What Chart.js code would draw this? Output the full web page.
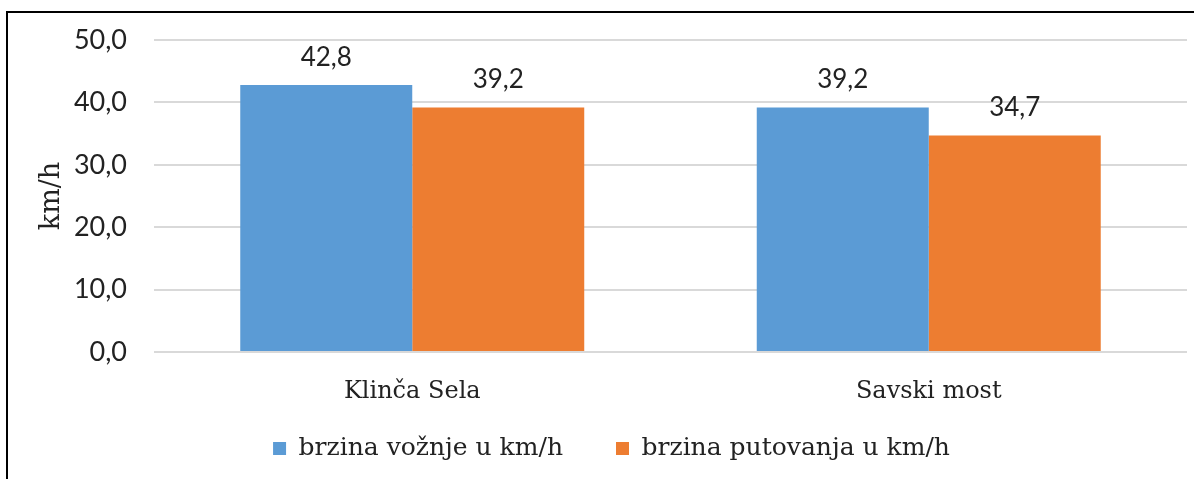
<!DOCTYPE html>
<html>
<head>
<meta charset="utf-8">
<script src="https://cdn.jsdelivr.net/npm/chart.js@4.4.1/dist/chart.umd.min.js"></script>
<style>
  html, body { margin: 0; padding: 0; background: #fff; }
  #frame {
    position: absolute;
    left: 6px;
    top: 11px;
    width: 1186px;
    height: 466px;
    border-top: 2px solid #000;
    border-left: 2px solid #000;
  }
  #wrap { position: relative; width: 1186px; height: 466px; }
</style>
</head>
<body>
<div id="frame"><div id="wrap"><canvas id="speedChart"></canvas></div></div>
<script>
const categories = ["Klinča Sela", "Savski most"];
const seriesNames = ["brzina vožnje u km/h", "brzina putovanja u km/h"];
const drivingSpeed = [42.8, 39.2];
const travelSpeed = [39.2, 34.7];
const yTicks = [0, 10, 20, 30, 40, 50];
const axisTitle = "km/h";

const serif = "'DejaVu Serif', 'Liberation Serif', serif";
const sans = "Lato, 'Liberation Sans', sans-serif";
const textColor = "#222222";

// comma as decimal separator, like the original
function fmt(v) {
  return Number(v).toFixed(1).replace(".", ",");
}

// value labels above each bar
const valueLabels = {
  id: "valueLabels",
  afterDatasetsDraw(chart) {
    const ctx = chart.ctx;
    ctx.save();
    ctx.font = "26px " + sans;
    ctx.fillStyle = textColor;
    ctx.textAlign = "center";
    ctx.textBaseline = "alphabetic";
    chart.data.datasets.forEach((ds, i) => {
      chart.getDatasetMeta(i).data.forEach((bar, j) => {
        ctx.fillText(fmt(ds.data[j]), bar.x, bar.y - 19);
      });
    });
    ctx.restore();
  },
};

const ctx = document.getElementById("speedChart").getContext("2d");
new Chart(ctx, {
  type: "bar",
  data: {
    labels: categories,
    datasets: [
      {
        label: seriesNames[0],
        data: drivingSpeed,
        backgroundColor: "#5B9BD5",
        borderWidth: 0,
      },
      {
        label: seriesNames[1],
        data: travelSpeed,
        backgroundColor: "#ED7D31",
        borderWidth: 0,
      },
    ],
  },
  options: {
    responsive: true,
    maintainAspectRatio: false,
    animation: false,
    categoryPercentage: 0.666,
    barPercentage: 1.0,
    layout: {
      padding: { left: 28, right: 7, top: 27, bottom: 8 },
    },
    plugins: {
      tooltip: { enabled: false },
      legend: {
        position: "bottom",
        labels: {
          font: { family: serif, size: 25 },
          color: textColor,
          boxWidth: 13,
          boxHeight: 13,
          padding: 53,
        },
      },
    },
    scales: {
      x: {
        grid: { display: false },
        border: { display: false },
        ticks: {
          font: { family: serif, size: 24 },
          color: textColor,
          padding: 17,
        },
        afterFit: (scale) => {
          scale.height = 31;
          // labels hang below the short box, so don't clip them to it
          scale._computeLabelArea = () => undefined;
        },
      },
      y: {
        min: 0,
        max: 50,
        grid: { color: "#d9d9d9", lineWidth: 2, drawTicks: false },
        border: { display: false },
        afterBuildTicks: (axis) => {
          axis.ticks = yTicks.map((v) => ({ value: v }));
        },
        ticks: {
          font: { family: sans, size: 27 },
          color: textColor,
          padding: 27,
          callback: (v) => fmt(v),
        },
        title: {
          display: true,
          text: axisTitle,
          font: { family: serif, size: 27, lineHeight: 1 },
          color: textColor,
          padding: { top: 2, bottom: 0 },
        },
        afterFit: (scale) => {
          scale.width = 118;
          // tick padding would otherwise push the plot top down
          scale.paddingTop = 16;
        },
      },
    },
  },
  plugins: [valueLabels],
});
</script>
</body>
</html>
